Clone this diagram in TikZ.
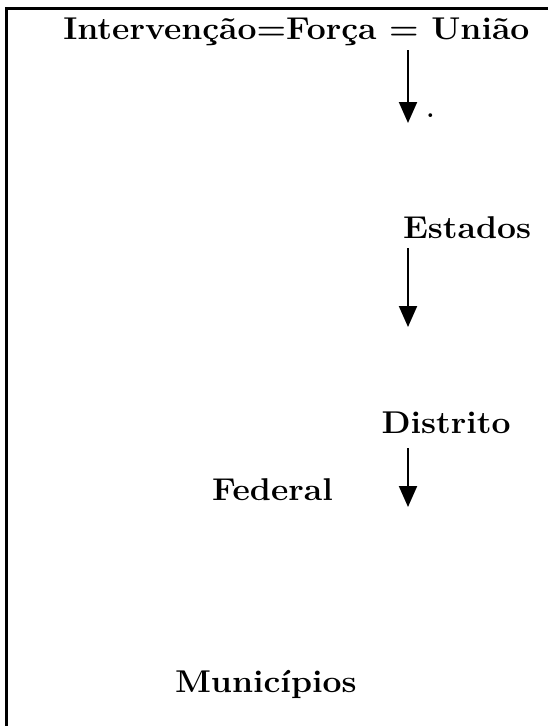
\documentclass[tikz,border=0pt]{standalone}
\usepackage{fontspec}
\usetikzlibrary{arrows.meta}
\tikzset{
  lbl/.style={anchor=base west, inner sep=0pt, outer sep=0pt, font=\fontsize{31.5}{34}\selectfont\bfseries},
  flow/.style={line width=2pt, -{Triangle[length=21pt,width=18pt]}},
  frame/.style={line width=3pt}
}
\newcommand{\widetxt}[1]{\scalebox{1.07}[1]{#1}}
\begin{document}
\begin{tikzpicture}[x=1pt,y=-1pt]
\useasboundingbox (0,0) rectangle (548,726);
\draw[frame] (6.2,726) -- (6.2,8) -- (548,8);
\node[lbl] (uniao) at (63.3,39.3) {\widetxt{Intervenção=Força = União}};
\node[lbl] (estados) at (403,238) {\widetxt{Estados}};
\node[lbl] (distrito) at (381.5,433) {\widetxt{Distrito}};
\node[lbl] (federal) at (212,500) {\widetxt{Federal}};
\node[lbl] (municipios) at (175,692) {\widetxt{Municípios}};
\node[lbl, font=\fontsize{26}{26}\selectfont\bfseries] (dot) at (426.3,117.5) {.};
\coordinate (a1s) at (408,50);
\coordinate (a1e) at (408,123);
\coordinate (a2s) at (408,248);
\coordinate (a2e) at (408,327);
\coordinate (a3s) at (408,448);
\coordinate (a3e) at (408,507);
\draw[flow] (a1s) -- (a1e);
\draw[flow] (a2s) -- (a2e);
\draw[flow] (a3s) -- (a3e);
\end{tikzpicture}
\end{document}
